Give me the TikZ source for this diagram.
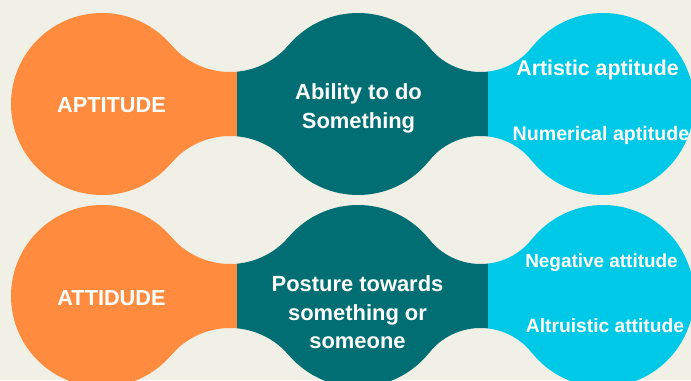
\documentclass[tikz,border=0pt]{standalone}
\usepackage{fontspec}
\setmainfont{Liberation Sans}
\definecolor{bgC}{HTML}{F1F0E6}
\definecolor{orangeC}{HTML}{FF8B3E}
\definecolor{tealC}{HTML}{006E73}
\definecolor{cyanC}{HTML}{00C8E7}
% neck between circles centred at x=#1 and x=#2 on row y=#3 (circle radius 91, neck half-height 32)
\newcommand\neckpiece[3]{%
  \pgfmathsetmacro\dd{(#2-#1)/2}%
  \pgfmathsetmacro\xm{(#1+#2)/2}%
  \pgfmathsetmacro\RR{((\dd/10)^2+10.24-82.81)*50/59}%
  \pgfmathsetmacro\px{91*\dd/(91+\RR)}%
  \pgfmathsetmacro\py{91*(32+\RR)/(91+\RR)}%
  \pgfmathsetmacro\bet{atan2(\py-32-\RR,\px-\dd)}%
  \fill (#1+\px,#3+\py) arc[start angle=\bet, end angle=-180-\bet, radius=\RR]
     -- (#2-\px,#3-\py) arc[start angle=180+\bet, end angle=-\bet, radius=\RR] -- cycle;}
\newcommand\rowblob[1]{%
  \fill (102,#1) circle (91);
  \fill (358,#1) circle (91);
  \fill (603,#1) circle (91);
  \neckpiece{102}{358}{#1}
  \neckpiece{358}{603}{#1}}
\newcommand\bothrows{\rowblob{276}\rowblob{84}}
\tikzset{
  lbl/.style={text=white, inner sep=0pt, align=center},
}
\newcommand\fs[2]{\fontsize{#1}{#2}\selectfont\bfseries}
\begin{document}
\begin{tikzpicture}[x=1bp,y=1bp]
\useasboundingbox (0,0) rectangle (691,380);
\fill[bgC] (0,0) rectangle (691,380);
\begin{scope}[color=orangeC]
  \clip (0,0) rectangle (237,380);
  \bothrows
\end{scope}
\begin{scope}[color=tealC]
  \clip (237,0) rectangle (488,380);
  \bothrows
\end{scope}
\begin{scope}[color=cyanC]
  \clip (488,0) rectangle (691,380);
  \bothrows
\end{scope}
\node[lbl, anchor=base, font=\fs{21.8}{29}] (apt) at (111.5,268) {APTITUDE};
\node[lbl, anchor=base, font=\fs{21.8}{29}] (att) at (111.5,75) {ATTIDUDE};
\node[lbl, font=\fs{22}{29}] (abil) at (358.5,272) {Ability to do\\Something};
\node[lbl, font=\fs{22}{28.5}] (post) at (357.5,67.5) {Posture towards\\something or\\someone};
\node[lbl, anchor=base, font=\fs{21.4}{29}] (art) at (597.5,305) {Artistic aptitude};
\node[lbl, anchor=base, font=\fs{19.7}{29}] (num) at (601,240) {Numerical aptitude};
\node[lbl, anchor=base, font=\fs{19}{29}] (neg) at (601.5,113) {Negative attitude};
\node[lbl, anchor=base, font=\fs{19.3}{29}] (alt) at (605,48) {Altruistic attitude};
\end{tikzpicture}
\end{document}
